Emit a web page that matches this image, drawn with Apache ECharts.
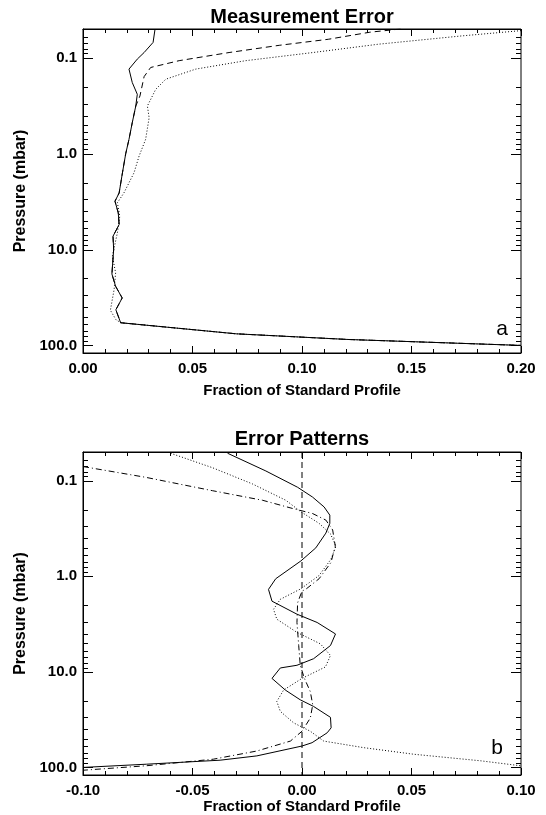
<!DOCTYPE html>
<html><head><meta charset="utf-8">
<script src="https://cdn.jsdelivr.net/npm/echarts@6/dist/echarts.min.js"></script>
<style>html,body{margin:0;padding:0;background:#fff}#c{width:546px;height:815px}</style>
</head><body><div id="c"></div>
<script>
// ---------- DATA ----------
// Panel a: Measurement Error  ([fraction, pressure mbar])
const measSolid = [[0.0329,0.05],[0.032,0.069],[0.0279,0.088],[0.0248,0.103],[0.021,0.131],[0.0225,0.181],[0.0248,0.24],[0.0241,0.318],[0.0225,0.474],[0.021,0.708],[0.0195,1.0],[0.018,1.59],[0.0165,2.57],[0.0146,3.13],[0.0161,4.14],[0.0165,5.48],[0.0137,7.26],[0.0140,10],[0.0132,18],[0.0149,24.2],[0.0179,32],[0.0150,42.5],[0.0172,58],[0.07,75.7],[0.121,86.7],[0.2,100]];
const measDash = [[0.145,0.05],[0.131,0.054],[0.112,0.064],[0.0896,0.074],[0.0667,0.088],[0.0439,0.107],[0.0309,0.126],[0.0279,0.157],[0.026,0.25],[0.0241,0.318],[0.0225,0.474],[0.021,0.708],[0.0195,1.0],[0.018,1.59],[0.0165,2.57],[0.0146,3.13],[0.0161,4.14],[0.0165,5.48],[0.0137,7.26],[0.0140,10],[0.0132,18],[0.0149,24.2],[0.0179,32],[0.0150,42.5],[0.0172,58],[0.07,75.7],[0.121,86.7],[0.2,100]];
const measDot = [[0.2,0.052],[0.173,0.059],[0.135,0.072],[0.105,0.088],[0.0743,0.107],[0.0515,0.131],[0.0378,0.167],[0.0332,0.213],[0.0294,0.318],[0.0302,0.421],[0.0286,0.708],[0.0256,1.06],[0.0233,1.58],[0.0187,2.56],[0.0157,3.25],[0.0168,4.48],[0.0157,6.7],[0.0134,11.7],[0.0149,17.5],[0.0142,26.2],[0.0125,43],[0.0150,53.7],[0.0172,58],[0.07,75.7],[0.121,86.7],[0.2,100]];
// Panel b: Error Patterns
const patSolid = [[-0.034,0.0515],[-0.0165,0.079],[-0.002,0.117],[0.0048,0.148],[0.0101,0.188],[0.0127,0.229],[0.0127,0.279],[0.0109,0.353],[0.0063,0.504],[-0.0005,0.69],[-0.012,1.06],[-0.0153,1.37],[-0.0137,1.82],[-0.0023,2.49],[0.0069,3.04],[0.0153,4.01],[0.013,5.3],[0.0053,7.28],[-0.0023,8.53],[-0.0099,9.1],[-0.0137,11.7],[-0.0076,15.5],[-0.0008,19.6],[0.0053,23],[0.013,29.9],[0.0133,38.5],[0.0115,43.4],[0.0046,55.1],[0,59.7],[-0.0206,75.7],[-0.0374,84],[-0.071,92.5],[-0.1,100]];
const patDot = [[-0.06,0.0515],[-0.0409,0.073],[-0.0226,0.108],[-0.0074,0.16],[-0.0005,0.211],[0.0078,0.279],[0.013,0.36],[0.0155,0.484],[0.0132,0.664],[0.0078,0.98],[-0.0005,1.35],[-0.0099,1.74],[-0.013,2.21],[-0.0115,2.81],[-0.0023,3.86],[0.0084,5.09],[0.013,6.73],[0.0107,8.88],[0,11.7],[-0.0084,15.5],[-0.0115,20.4],[-0.0099,25.9],[-0.0038,34.2],[0.0038,41.8],[0.0099,53],[0.0282,62.1],[0.0511,72.8],[0.0817,85.3],[0.0997,96]];
const patDashDot = [[-0.1,0.071],[-0.0714,0.092],[-0.0409,0.127],[-0.018,0.16],[-0.0043,0.195],[0.0048,0.22],[0.0109,0.258],[0.014,0.327],[0.0152,0.484],[0.0132,0.718],[0.0078,1.06],[0.002,1.35],[0,1.43],[-0.002,1.89],[-0.0023,3.04],[-0.0015,5.3],[-0.0008,8.53],[0.0011,11.7],[0.0038,16.1],[0.0049,22.1],[0.0038,30.4],[0,41.8],[-0.0053,53],[-0.0206,67.3],[-0.0405,82],[-0.071,96],[-0.1,107]];
const zeroLine = [[0,0.05],[0,120]];
// Axis ticks / labels
const pRange = [0.05, 120];
const yMajorTicks = [0.1, 1, 10, 100];
const yTickLabels = ['0.1', '1.0', '10.0', '100.0'];
const yMinorTicks = [0.06,0.07,0.08,0.09,0.2,0.3,0.4,0.5,0.6,0.7,0.8,0.9,2,3,4,5,6,7,8,9,20,30,40,50,60,70,80,90];
const xRangeA = [0, 0.2];
const xRangeB = [-0.1, 0.1];
const xStep = 0.05;
const titles = ['Measurement Error', 'Error Patterns'];
const panelTags = ['a', 'b'];
const xName = 'Fraction of Standard Profile';
const yName = 'Pressure (mbar)';

// ---------- CHART ----------
const FONT = '"Liberation Sans", Arial, Helvetica, sans-serif';
const BLACK = '#000';
const grids = [
  {left: 83, top: 29, width: 438, height: 324},
  {left: 83, top: 452, width: 438, height: 325}
];
const labelFmtY = v => {
  for (let i = 0; i < yMajorTicks.length; i++) {
    if (Math.abs(Math.log10(v) - Math.log10(yMajorTicks[i])) < 1e-6) return yTickLabels[i];
  }
  return '';
};
function xAxisDef(gi, range, pos, nameGap, showLabel) {
  return {
    type: 'value', gridIndex: gi, position: pos, min: range[0], max: range[1], interval: xStep,
    axisLine: {show: true, onZero: false, lineStyle: {color: BLACK, width: 1}},
    axisTick: {show: true, inside: true, length: 7, lineStyle: {color: BLACK}},
    minorTick: {show: true, splitNumber: 5, length: 4, lineStyle: {color: BLACK}},
    splitLine: {show: false},
    axisLabel: {show: showLabel, margin: 8, color: BLACK, fontFamily: FONT, fontWeight: 'bold', fontSize: 15,
      formatter: v => v.toFixed(2)},
    name: showLabel ? xName : '', nameLocation: 'middle', nameGap: nameGap,
    nameTextStyle: {color: BLACK, fontFamily: FONT, fontWeight: 'bold', fontSize: 15}
  };
}
function yAxisDef(gi) {
  return {
    type: 'log', logBase: 10, gridIndex: gi, min: pRange[0], max: pRange[1], inverse: true,
    axisLine: {show: true, onZero: false, lineStyle: {color: BLACK, width: 1}},
    axisTick: {show: false}, minorTick: {show: false}, splitLine: {show: false},
    axisLabel: {margin: 6, color: BLACK, fontFamily: FONT, fontWeight: 'bold', fontSize: 15, formatter: labelFmtY,
      showMinLabel: true, showMaxLabel: true},
    name: yName, nameLocation: 'middle', nameGap: 45, nameRotate: 90,
    nameTextStyle: {color: BLACK, fontFamily: FONT, fontWeight: 'bold', fontSize: 16}
  };
}
function tickSeries(gi, values, len, xMin) {
  return {
    type: 'custom', xAxisIndex: gi * 2, yAxisIndex: gi, silent: true, z: 5, clip: false,
    data: values.map(p => [xMin, p]),
    renderItem: function (params, api) {
      const cs = params.coordSys;
      const y = Math.round(api.coord([api.value(0), api.value(1)])[1]) + 0.5;
      return {type: 'group', children: [
        {type: 'line', shape: {x1: cs.x, y1: y, x2: cs.x + len, y2: y}, style: {stroke: BLACK, lineWidth: 1}},
        {type: 'line', shape: {x1: cs.x + cs.width, y1: y, x2: cs.x + cs.width - len, y2: y}, style: {stroke: BLACK, lineWidth: 1}}
      ]};
    }
  };
}
function lineSeries(gi, data, type, width) {
  return {
    type: 'line', xAxisIndex: gi * 2, yAxisIndex: gi, data: data, showSymbol: false, symbol: 'none',
    smooth: false, z: 3, lineStyle: {color: BLACK, width: width || 1, type: type}
  };
}
const option = {
  animation: false,
  backgroundColor: '#fff',
  title: titles.map((t, i) => ({
    text: t, left: grids[i].left + grids[i].width / 2, top: i === 0 ? 7 : 429, textAlign: 'center', padding: 0,
    textStyle: {color: BLACK, fontFamily: FONT, fontWeight: 'bold', fontSize: 20}
  })),
  grid: grids.map(g => Object.assign({show: true, borderColor: BLACK, borderWidth: 1, backgroundColor: 'transparent'}, g)),
  xAxis: [
    xAxisDef(0, xRangeA, 'bottom', 30, true), xAxisDef(0, xRangeA, 'top', 0, false),
    xAxisDef(1, xRangeB, 'bottom', 24, true), xAxisDef(1, xRangeB, 'top', 0, false)
  ],
  yAxis: [yAxisDef(0), yAxisDef(1)],
  graphic: [
    {type: 'text', x: 502, y: 329, style: {text: panelTags[0], align: 'center', verticalAlign: 'middle', font: '21px ' + FONT, fill: BLACK}},
    {type: 'text', x: 497, y: 748, style: {text: panelTags[1], align: 'center', verticalAlign: 'middle', font: '21px ' + FONT, fill: BLACK}}
  ],
  series: [
    tickSeries(0, yMajorTicks, 10, xRangeA[0]), tickSeries(0, yMinorTicks, 5, xRangeA[0]),
    tickSeries(1, yMajorTicks, 10, xRangeB[0]), tickSeries(1, yMinorTicks, 5, xRangeB[0]),
    lineSeries(0, measSolid, 'solid'),
    lineSeries(0, measDash, [6, 4]),
    lineSeries(0, measDot, [1, 2]),
    lineSeries(1, zeroLine, [6, 4]),
    lineSeries(1, patSolid, 'solid'),
    lineSeries(1, patDot, [1, 2]),
    lineSeries(1, patDashDot, [6, 3, 1, 3])
  ]
};
const chart = echarts.init(document.getElementById('c'), null, {renderer: 'canvas'});
chart.setOption(option);
</script>
</body></html>
